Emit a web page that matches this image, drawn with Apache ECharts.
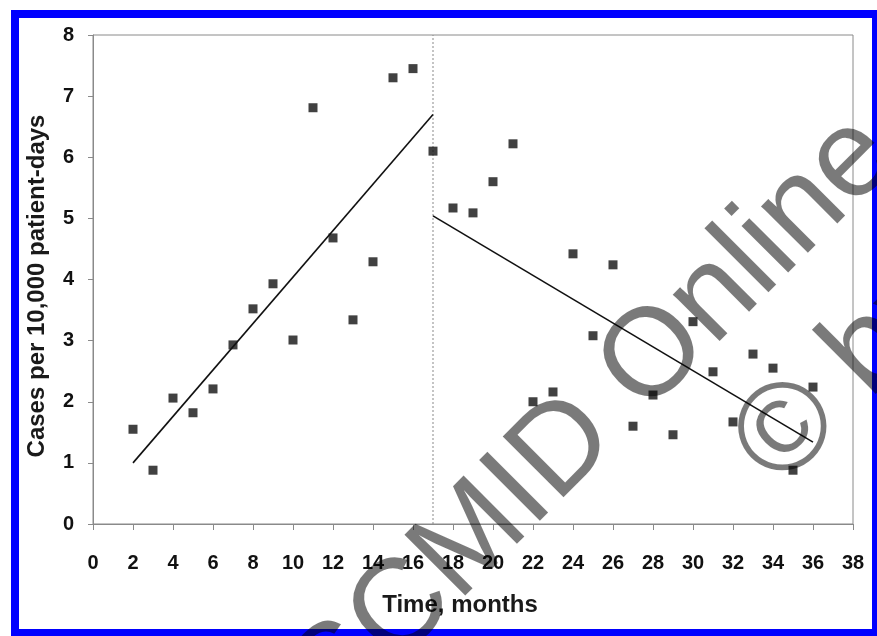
<!DOCTYPE html>
<html>
<head>
<meta charset="utf-8">
<script src="https://cdn.jsdelivr.net/npm/echarts@6/dist/echarts.min.js"></script>
<style>
html,body{margin:0;padding:0;background:#fff;}
#chart{width:877px;height:636px;}
</style>
</head>
<body>
<div id="chart"></div>
<script>
// ---- data ----
var months = [2,3,4,5,6,7,8,9,10,11,12,13,14,15,16,17,18,19,20,21,22,23,24,25,26,27,28,29,30,31,32,33,34,35,36];
var cases = [1.55,0.88,2.06,1.82,2.21,2.93,3.52,3.93,3.01,6.81,4.68,3.34,4.29,7.30,7.45,6.10,5.17,5.09,5.60,6.22,2.00,2.16,4.42,3.08,4.24,1.60,2.11,1.46,3.31,2.49,1.67,2.78,2.55,0.88,2.24];
var trend1X = [2, 17];
var trend1Y = [1.0, 6.7];
var trend2X = [17, 36];
var trend2Y = [5.04, 1.34];
var breakX = 17;
var xAxisTitle = 'Time, months';
var yAxisTitle = 'Cases per 10,000 patient-days';
var watermark1 = 'ESCMID Online';
var watermark2 = '\u00A9 by author';

function pairs(xs, ys){ return xs.map(function(x,i){ return [x, ys[i]]; }); }

var chart = echarts.init(document.getElementById('chart'), null, {renderer:'canvas'});
var FONT = '"Liberation Sans", Arial, sans-serif';
var option = {
  animation: false,
  backgroundColor: '#ffffff',
  grid: {left: 93, top: 35, right: 24, bottom: 112, show: true, borderColor: '#8a8a8a', borderWidth: 1, backgroundColor: '#fff'},
  xAxis: {
    type: 'value', min: 0, max: 38, interval: 2,
    axisLine: {show: true, lineStyle: {color: '#8a8a8a', width: 1}},
    axisTick: {show: true, length: 6, lineStyle: {color: '#8a8a8a'}},
    axisLabel: {color: '#111', fontFamily: FONT, fontWeight: 'bold', fontSize: 20, margin: 29},
    splitLine: {show: false}
  },
  yAxis: {
    type: 'value', min: 0, max: 8, interval: 1,
    axisLine: {show: true, lineStyle: {color: '#8a8a8a', width: 1}},
    axisTick: {show: true, length: 5, lineStyle: {color: '#8a8a8a'}},
    axisLabel: {color: '#111', fontFamily: FONT, fontWeight: 'bold', fontSize: 20, margin: 19},
    splitLine: {show: false}
  },
  series: [
    {type: 'line', data: [[breakX, 0], [breakX, 8]], showSymbol: false, symbol: 'none',
     lineStyle: {color: '#8a8a8a', width: 1, type: [2, 2]}, z: 1},
    {type: 'line', data: pairs(trend1X, trend1Y), showSymbol: false, symbol: 'none',
     lineStyle: {color: '#111', width: 1.6}, z: 3},
    {type: 'line', data: pairs(trend2X, trend2Y), showSymbol: false, symbol: 'none',
     lineStyle: {color: '#111', width: 1.6}, z: 3},
    {type: 'scatter', data: pairs(months, cases), symbol: 'rect', symbolSize: 9,
     itemStyle: {color: '#111'}, z: 4}
  ],
  graphic: [
    {type: 'text', x: 460, y: 605, style: {text: xAxisTitle, font: 'bold 24px ' + FONT, fill: '#1a1a1a', textAlign: 'center', textVerticalAlign: 'middle'}},
    {type: 'text', x: 37, y: 286, rotation: Math.PI / 2, style: {text: yAxisTitle, font: 'bold 24px ' + FONT, fill: '#1a1a1a', textAlign: 'center', textVerticalAlign: 'middle'}},
    {type: 'rect', shape: {x: 15, y: 14, width: 861, height: 619}, style: {fill: 'none', stroke: '#0000ff', lineWidth: 8}, z: 50},
    {type: 'text', x: 252, y: 760, rotation: Math.PI / 4, z: 100, style: {text: watermark1, font: '125px ' + FONT, fill: 'rgba(0,0,0,0.52)', textAlign: 'left', textVerticalAlign: 'middle'}},
    {type: 'text', x: 756, y: 465, rotation: Math.PI / 4, z: 100, style: {text: watermark2, font: '125px ' + FONT, fill: 'rgba(0,0,0,0.52)', textAlign: 'left', textVerticalAlign: 'middle'}}
  ]
};
chart.setOption(option);
</script>
</body>
</html>
